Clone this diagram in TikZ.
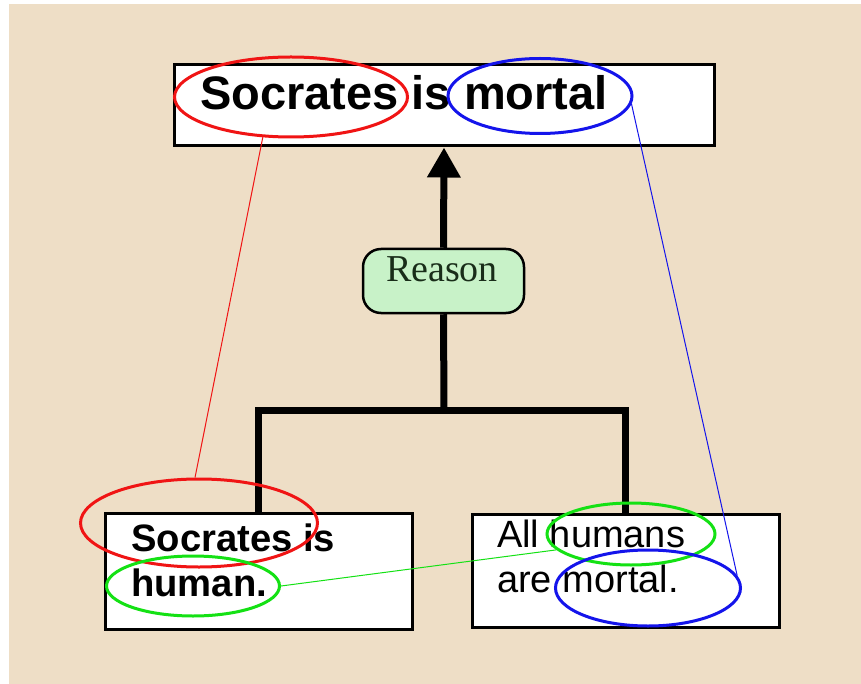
\documentclass[tikz,border=0pt]{standalone}
\usepackage{fontspec}
\setmainfont{Liberation Sans}
\newfontfamily\rsnfont{Liberation Serif}
\usetikzlibrary{shapes.geometric,arrows.meta}
\definecolor{bgbeige}{RGB}{238,222,198}
\definecolor{rsngreen}{RGB}{200,242,200}
\definecolor{rsntext}{RGB}{25,45,25}
\definecolor{myred}{RGB}{240,20,20}
\definecolor{myblue}{RGB}{20,20,235}
\definecolor{mygreen}{RGB}{20,225,20}
\tikzset{
  propbox/.style={draw=black, line width=3pt, fill=white, rectangle, inner sep=0pt},
  txt/.style={inner sep=0pt, anchor=base west},
  ring/.style={ellipse, draw=#1, line width=3pt, inner sep=0pt},
  link/.style={draw=#1, line width=1pt},
  thick bar/.style={line width=7pt},
}
\begin{document}
\begin{tikzpicture}[x=1pt,y=-1pt]
\useasboundingbox (0,0) rectangle (861,684);
\fill[white] (0,0) rectangle (861,684);
\fill[bgbeige] (9,4) rectangle (861,684);

% boxes
\node[propbox, minimum width=540pt, minimum height=81pt] (top) at (444,105.5) {};
\node[propbox, minimum width=307pt, minimum height=116pt] (left) at (258.5,571) {};
\node[propbox, minimum width=307pt, minimum height=113pt] (right) at (625.5,570.5) {};

% texts
\node[txt, font=\bfseries\fontsize{47}{47}\selectfont] (toptext) at (200,110) {Socrates is mortal};
\node[txt, font=\bfseries\fontsize{38.2}{38.2}\selectfont] (lt1) at (131,551) {Socrates is};
\node[txt, font=\bfseries\fontsize{38.2}{38.2}\selectfont] (lt2) at (131,596) {human.};
\node[txt, font=\fontsize{38}{38}\selectfont] (rt1) at (497,547) {All humans};
\node[txt, font=\fontsize{38}{38}\selectfont] (rt2) at (497,592) {are mortal.};

% reason node
\node[draw=black, line width=2.5pt, fill=rsngreen, rounded corners=18pt,
      minimum width=161pt, minimum height=64pt, inner sep=0pt] (reason) at (443.5,281) {};
\node[inner sep=0pt, anchor=base, font=\rsnfont\fontsize{38}{38}\selectfont, text=rsntext] (rsntxt) at (442,282) {Reason};

% thick connectors
\coordinate (j) at (444,410);
\draw[thick bar] (j) -- (reason.south);
\draw[thick bar, -{Triangle[width=32pt,length=30pt]}] (reason.north) -- (top.south);
\draw[thick bar] (left.north) |- (j) -| (right.north);

% ellipses
\node[ring=myred, minimum width=233pt, minimum height=80pt] (redA) at (291,97) {};
\node[ring=myblue, minimum width=184pt, minimum height=75pt] (blueA) at (540,96) {};
\node[ring=myred, minimum width=237pt, minimum height=88pt] (redB) at (199,523) {};
\node[ring=mygreen, minimum width=173pt, minimum height=60pt] (greenA) at (193,586) {};
\node[ring=mygreen, minimum width=168pt, minimum height=62pt] (greenB) at (631,534) {};
\node[ring=myblue, minimum width=185pt, minimum height=76pt] (blueB) at (648,588) {};

% thin links
\draw[link=myred] (redA.-125) -- (redB.95);
\draw[link=myblue] (blueA.-5) -- (blueB.8);
\draw[link=mygreen] (greenA.east) -- (greenB.192);
\end{tikzpicture}
\end{document}
